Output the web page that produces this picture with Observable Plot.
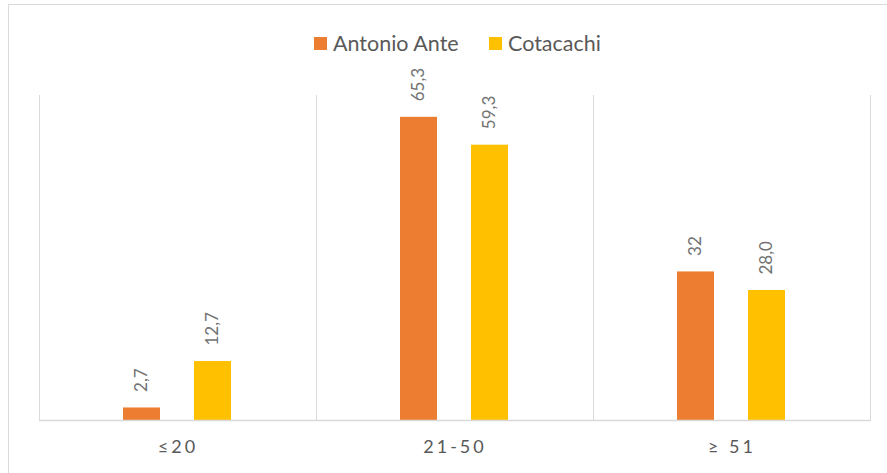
<!DOCTYPE html>
<html>
<head>
<meta charset="utf-8">
<script src="https://cdn.jsdelivr.net/npm/d3@7"></script>
<script src="https://cdn.jsdelivr.net/npm/@observablehq/plot@0.6"></script>
<style>
  html, body { margin: 0; padding: 0; background: #fff; }
  #wrap { position: relative; width: 887px; height: 473px; overflow: hidden; font-family: Lato, "Open Sans", sans-serif; }
  #border { position: absolute; left: 8px; top: 4px; width: 900px; height: 500px; border-left: 1.5px solid #d9d9d9; border-top: 1.5px solid #d9d9d9; box-sizing: border-box; pointer-events: none; }
  #legend { height: 70px; position: relative; }
  .item { position: absolute; top: 30px; display: flex; align-items: center; font-size: 21.5px; color: #595959; }
  .sw { width: 13px; height: 13px; margin-right: 6px; }
  g[aria-label="fx-axis tick label"] text { letter-spacing: 3px; }
</style>
</head>
<body>
<div id="wrap">
  <div id="border"></div>
  <div id="legend"></div>
  <div id="chart"></div>
</div>
<script>
const categories = ["≤20", "21-50", "≥ 51"];
const seriesNames = ["Antonio Ante", "Cotacachi"];
const antonioAnte = [2.7, 65.3, 32];
const cotacachi = [12.7, 59.3, 28.0];
const antonioLabels = ["2,7", "65,3", "32"];
const cotacachiLabels = ["12,7", "59,3", "28,0"];
const colors = ["#ED7D31", "#FFC000"];

const data = categories.flatMap((c, i) => [
  {cat: c, series: seriesNames[0], value: antonioAnte[i], label: antonioLabels[i]},
  {cat: c, series: seriesNames[1], value: cotacachi[i], label: cotacachiLabels[i]}
]);

// legend
const legend = document.getElementById("legend");
const legendLeft = [314, 489];
seriesNames.forEach((s, i) => {
  const it = document.createElement("div");
  it.className = "item";
  it.style.left = legendLeft[i] + "px";
  it.innerHTML = `<span class="sw" style="background:${colors[i]}"></span><span>${s}</span>`;
  legend.appendChild(it);
});

const chart = Plot.plot({
  width: 887,
  height: 403,
  marginLeft: 38,
  marginRight: 17,
  marginTop: 25,
  marginBottom: 53,
  style: {fontFamily: "Lato, 'Open Sans', sans-serif", background: "transparent", overflow: "visible"},
  fx: {domain: categories, padding: 0, label: null, axis: null},
  x: {domain: seriesNames, axis: null, paddingInner: 0.472, paddingOuter: 1.16},
  y: {domain: [0, 70], axis: null},
  color: {domain: seriesNames, range: colors},
  marks: [
    Plot.frame({anchor: "left", stroke: "#d9d9d9", strokeOpacity: 1}),
    Plot.frame({anchor: "right", stroke: "#d9d9d9", strokeOpacity: 1}),
    Plot.barY(data, {fx: "cat", x: "series", y: "value", fill: "series"}),
    Plot.ruleY([0], {stroke: "#d9d9d9", strokeWidth: 1.5}),
    Plot.text(data, {fx: "cat", x: "series", y: "value", text: "label", rotate: -90, textAnchor: "start", dy: -16, fill: "#737373", fontSize: 17}),
    Plot.axisFx({anchor: "bottom", tickSize: 0, tickPadding: 20, fontSize: 18, fill: "#595959", label: null})
  ]
});
document.getElementById("chart").appendChild(chart);
</script>
</body>
</html>
